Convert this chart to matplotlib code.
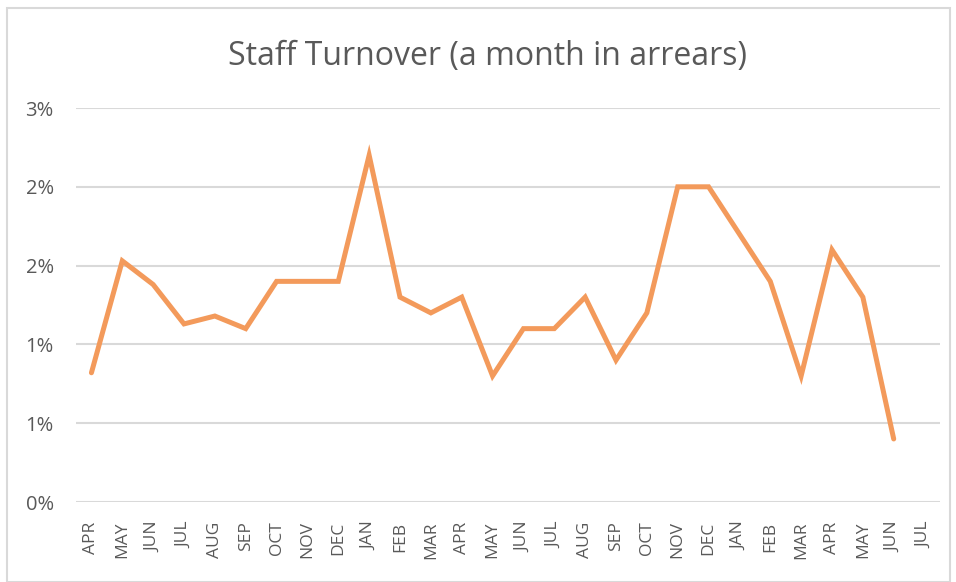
import matplotlib.pyplot as plt
from matplotlib.patches import Rectangle

# ======================================
months = ['APR', 'MAY', 'JUN', 'JUL', 'AUG', 'SEP', 'OCT', 'NOV', 'DEC', 'JAN',
          'FEB', 'MAR', 'APR', 'MAY', 'JUN', 'JUL', 'AUG', 'SEP', 'OCT', 'NOV',
          'DEC', 'JAN', 'FEB', 'MAR', 'APR', 'MAY', 'JUN', 'JUL']
turnover = [0.82, 1.53, 1.38, 1.13, 1.18, 1.10, 1.40, 1.40, 1.40, 2.20,
            1.30, 1.20, 1.30, 0.80, 1.10, 1.10, 1.30, 0.90, 1.20, 2.00,
            2.00, 1.70, 1.40, 0.80, 1.60, 1.30, 0.40]
y_ticks = [0, 0.5, 1.0, 1.5, 2.0, 2.5]
y_tick_labels = ['0%', '1%', '1%', '2%', '2%', '3%']
# ======================================

plt.rcParams['font.family'] = ['Open Sans', 'DejaVu Sans']
grey = '#595959'

fig = plt.figure(figsize=(9.56, 5.82), dpi=100)
ax = fig.add_axes([76/956, 1 - 502/582, 864/956, 394/582])

ax.plot(range(len(turnover)), turnover, color='#F39A5B', linewidth=3.6,
        solid_joinstyle='miter', solid_capstyle='round')

ax.set_xlim(-0.5, len(months) - 0.5)
ax.set_ylim(0, 2.5)
ax.set_xticks(range(len(months)))
ax.set_xticklabels(months, rotation=90, fontsize=12.5, color=grey)
ax.set_yticks(y_ticks)
ax.set_yticklabels(y_tick_labels, fontsize=14.5, color=grey)
ax.tick_params(length=0)
ax.tick_params(axis='x', pad=14)
ax.tick_params(axis='y', pad=16)
ax.grid(axis='y', color='#D9D9D9', linewidth=1.5)
ax.set_axisbelow(True)
for s in ax.spines.values():
    s.set_visible(False)

fig.text(487/956, 1 - 57/582, 'Staff Turnover (a month in arrears)',
         ha='center', va='center', fontsize=23, color=grey)
fig.patches.append(Rectangle((7/956, 0), 943/956, 1 - 8/582, transform=fig.transFigure,
                             fill=False, edgecolor='#D9D9D9', linewidth=1.5))

fig.savefig('out.png', dpi=100)
